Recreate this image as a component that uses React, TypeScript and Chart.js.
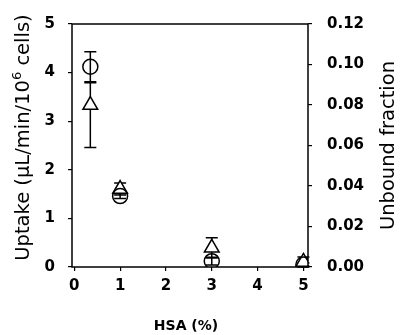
import React, { useEffect, useRef } from "react";
import { Chart, registerables } from "chart.js";

Chart.register(...registerables);

// HSA concentration (%)
const hsa = [0.35, 1, 3, 5];
// Uptake (µL/min/10^6 cells) — circles, left axis
const uptake = [4.12, 1.46, 0.12, 0.05];
const uptakeErrUp = [0.31, 0.05, 0.08, 0.03];
const uptakeErrDown = [0.31, 0.05, 0.08, 0.03];
// Unbound fraction — triangles, right axis
const unbound = [0.08, 0.0385, 0.0095, 0.0025];
const unboundErrUp = [0.011, 0.003, 0.005, 0.0025];
const unboundErrDown = [0.021, 0.003, 0.005, 0.0025];

const xTicks = [0, 1, 2, 3, 4, 5];
const yTicks = [0, 1, 2, 3, 4, 5];
const y1Ticks = [0, 0.02, 0.04, 0.06, 0.08, 0.1, 0.12];

const TICK_FONT = { family: "'DejaVu Sans'", size: 15, weight: "bold" as const };

const errorBarPlugin = {
  id: "errorBars",
  beforeDatasetsDraw(chart: any) {
    const ctx = chart.ctx;
    ctx.save();
    ctx.strokeStyle = "#000";
    ctx.lineWidth = 1.5;
    chart.data.datasets.forEach((ds: any) => {
      const xs = chart.scales.x;
      const ys = chart.scales[ds.yAxisID];
      ds.data.forEach((p: any, i: number) => {
        const px = xs.getPixelForValue(p.x);
        const top = ys.getPixelForValue(p.y + ds.errUp[i]);
        const bot = ys.getPixelForValue(Math.max(0, p.y - ds.errDown[i]));
        ctx.beginPath();
        ctx.moveTo(px, top);
        ctx.lineTo(px, bot);
        ctx.moveTo(px - 6, top);
        ctx.lineTo(px + 6, top);
        ctx.moveTo(px - 6, bot);
        ctx.lineTo(px + 6, bot);
        ctx.stroke();
      });
    });
    ctx.restore();
  },
};

const framePlugin = {
  id: "frame",
  afterDraw(chart: any) {
    const { ctx, chartArea } = chart;
    ctx.save();
    ctx.strokeStyle = "#000";
    ctx.lineWidth = 1.5;
    ctx.strokeRect(chartArea.left, chartArea.top, chartArea.right - chartArea.left, chartArea.bottom - chartArea.top);

    ctx.fillStyle = "#000";
    // Left title with superscript
    const midY = (chartArea.top + chartArea.bottom) / 2 - 8;
    ctx.save();
    ctx.translate(23.5, midY);
    ctx.rotate(-Math.PI / 2);
    ctx.textBaseline = "middle";
    const f = "19.5px 'DejaVu Sans'";
    const fs = "13px 'DejaVu Sans'";
    const a = "Uptake (µL/min/10";
    const s = "6";
    const b = " cells)";
    ctx.font = f;
    const wa = ctx.measureText(a).width;
    const wb = ctx.measureText(b).width;
    ctx.font = fs;
    const ws = ctx.measureText(s).width;
    const total = wa + ws + wb;
    let cx = -total / 2;
    ctx.textAlign = "left";
    ctx.font = f;
    ctx.fillText(a, cx, 0);
    cx += wa;
    ctx.font = fs;
    ctx.fillText(s, cx, -6);
    cx += ws;
    ctx.font = f;
    ctx.fillText(b, cx, 0);
    ctx.restore();

    // Right title
    ctx.save();
    ctx.translate(389, (chartArea.top + chartArea.bottom) / 2);
    ctx.rotate(-Math.PI / 2);
    ctx.textAlign = "center";
    ctx.textBaseline = "middle";
    ctx.font = "19.5px 'DejaVu Sans'";
    ctx.fillText("Unbound fraction", 0, 0);
    ctx.restore();

    // Bottom title
    ctx.textAlign = "center";
    ctx.textBaseline = "middle";
    ctx.font = "bold 14px 'DejaVu Sans'";
    ctx.fillText("HSA (%)", 186, 326);
    ctx.restore();
  },
};

export default function App() {
  const ref = useRef<HTMLCanvasElement | null>(null);
  useEffect(() => {
    if (!ref.current) return;
    const chart = new Chart(ref.current, {
      type: "scatter",
      data: {
        datasets: [
          {
            label: "Uptake",
            data: hsa.map((x, i) => ({ x, y: uptake[i] })),
            errUp: uptakeErrUp,
            errDown: uptakeErrDown,
            yAxisID: "y",
            pointStyle: "circle",
            pointRadius: 7.5,
            pointBorderWidth: 1.5,
            borderColor: "#000",
            backgroundColor: "rgba(0,0,0,0)",
          } as any,
          {
            label: "Unbound fraction",
            data: hsa.map((x, i) => ({ x, y: unbound[i] })),
            errUp: unboundErrUp,
            errDown: unboundErrDown,
            yAxisID: "y1",
            pointStyle: "triangle",
            pointRadius: 8.5,
            pointBorderWidth: 1.5,
            borderColor: "#000",
            backgroundColor: "#fff",
          } as any,
        ],
      },
      options: {
        animation: false,
        responsive: true,
        maintainAspectRatio: false,
        layout: { padding: { top: 24, left: 0, right: 0, bottom: 0 } },
        plugins: { legend: { display: false }, tooltip: { enabled: false } },
        scales: {
          x: {
            type: "linear",
            position: "bottom",
            min: -0.05,
            max: 5.1,
            afterBuildTicks: (s: any) => {
              s.ticks = xTicks.map((v) => ({ value: v }));
            },
            afterFit: (s: any) => {
              s.height = 68;
            },
            ticks: { font: TICK_FONT, color: "#000", padding: 6, maxRotation: 0 },
            grid: { drawOnChartArea: false, drawTicks: true, tickLength: 4, color: "#000", lineWidth: 1.2 },
            border: { display: false },
          },
          y: {
            type: "linear",
            position: "left",
            min: 0,
            max: 5,
            afterBuildTicks: (s: any) => {
              s.ticks = yTicks.map((v) => ({ value: v }));
            },
            afterFit: (s: any) => {
              s.width = 72;
            },
            ticks: { font: TICK_FONT, color: "#000", padding: 13 },
            grid: { drawOnChartArea: false, drawTicks: true, tickLength: 4, color: "#000", lineWidth: 1.2 },
            border: { display: false },
          },
          y1: {
            type: "linear",
            position: "right",
            min: 0,
            max: 0.12,
            afterBuildTicks: (s: any) => {
              s.ticks = y1Ticks.map((v) => ({ value: v }));
            },
            afterFit: (s: any) => {
              s.width = 92;
            },
            ticks: {
              font: TICK_FONT,
              color: "#000",
              padding: 15,
              callback: (v: any) => Number(v).toFixed(2),
            },
            grid: { drawOnChartArea: false, drawTicks: true, tickLength: 4, color: "#000", lineWidth: 1.2 },
            border: { display: false },
          },
        },
      },
      plugins: [errorBarPlugin, framePlugin],
    });
    return () => chart.destroy();
  }, []);
  return (
    <div style={{ position: "absolute", left: 0, top: 0, width: 400, height: 335, background: "#fff" }}>
      <canvas ref={ref} />
    </div>
  );
}
